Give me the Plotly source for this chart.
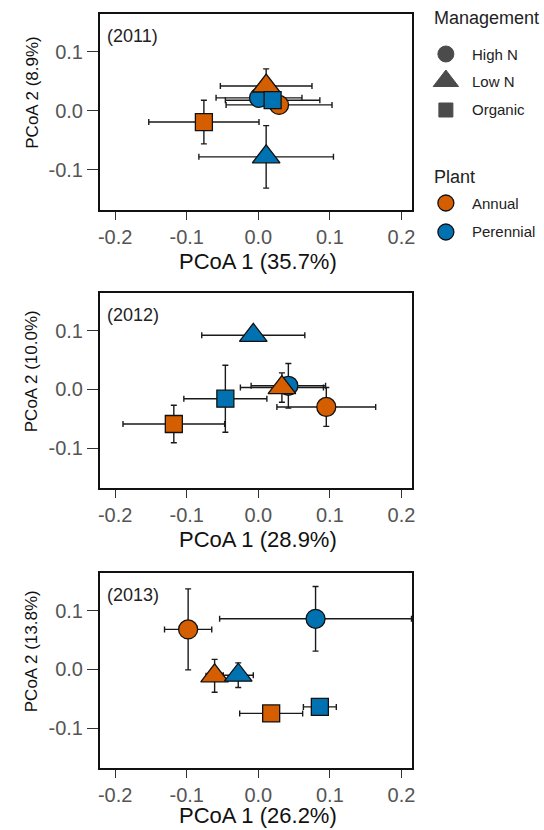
import plotly.graph_objects as go

# ---------------- data ----------------
years = ["(2011)", "(2012)", "(2013)"]
x_titles = ["PCoA 1 (35.7%)", "PCoA 1 (28.9%)", "PCoA 1 (26.2%)"]
y_titles = ["PCoA 2 (8.9%)", "PCoA 2 (10.0%)", "PCoA 2 (13.8%)"]

management = ["High N", "High N", "Low N", "Low N", "Organic", "Organic"]
plant = ["Annual", "Perennial", "Annual", "Perennial", "Annual", "Perennial"]

x_2011 = [0.029, 0.001, 0.011, 0.011, -0.076, 0.020]
y_2011 = [0.010, 0.022, 0.042, -0.078, -0.019, 0.018]
ex_2011 = [0.074, 0.060, 0.064, 0.094, 0.077, 0.066]
ey_2011 = [0.008, 0.008, 0.029, 0.053, 0.037, 0.008]

x_2012 = [0.095, 0.042, 0.033, -0.007, -0.118, -0.046]
y_2012 = [-0.030, 0.006, 0.003, 0.092, -0.059, -0.016]
ex_2012 = [0.069, 0.052, 0.058, 0.072, 0.071, 0.058]
ey_2012 = [0.033, 0.038, 0.025, 0.008, 0.032, 0.057]

x_2013 = [-0.098, 0.080, -0.061, -0.028, 0.018, 0.086]
y_2013 = [0.068, 0.086, -0.011, -0.010, -0.075, -0.064]
ex_2013 = [0.033, 0.134, 0.012, 0.021, 0.044, 0.023]
ey_2013 = [0.069, 0.055, 0.028, 0.021, 0.006, 0.008]

x_ticks = [-0.2, -0.1, 0.0, 0.1, 0.2]
y_ticks = [-0.1, 0.0, 0.1]

# ---------------- styles ----------------
W, H = 544, 830
plant_colors = {"Annual": "#D55E00", "Perennial": "#0072B2"}
mgmt_symbols = {"High N": "circle", "Low N": "triangle-up", "Organic": "square"}
mgmt_sizes = {"High N": 19, "Low N": 24, "Organic": 17}
FONT = "Liberation Sans, Arial, Helvetica, sans-serif"

box_x = (99, 414)
box_y = [(14, 210), (293, 488), (573, 768)]
x_title_gap = [51, 51, 47]
x_range = [-0.221, 0.215]
y_range = [-0.168, 0.164]

def px(x):
    return x / W

def py(y):
    return 1 - y / H

fig = go.Figure()
datasets = [
    (x_2011, y_2011, ex_2011, ey_2011),
    (x_2012, y_2012, ex_2012, ey_2012),
    (x_2013, y_2013, ex_2013, ey_2013),
]

annotations = []
for i, (xs, ys, exs, eys) in enumerate(datasets):
    n = "" if i == 0 else str(i + 1)
    fig.add_trace(go.Scatter(
        x=xs, y=ys, mode="markers",
        xaxis="x" + n, yaxis="y" + n,
        error_x=dict(type="data", array=exs, visible=True, color="#1a1a1a",
                     thickness=1.4, width=3),
        error_y=dict(type="data", array=eys, visible=True, color="#1a1a1a",
                     thickness=1.4, width=3),
        marker=dict(
            symbol=[mgmt_symbols[m] for m in management],
            size=[mgmt_sizes[m] for m in management],
            color=[plant_colors[p] for p in plant],
            line=dict(color="#111111", width=1.3),
            opacity=1,
        ),
        showlegend=False, hoverinfo="skip",
    ))
    top, bot = box_y[i]
    ax = dict(
        domain=[px(box_x[0]), px(box_x[1])],
        range=x_range, tickvals=x_ticks,
        ticktext=["%.1f" % v for v in x_ticks],
        ticks="outside", ticklen=8, tickwidth=1.3, tickcolor="#333333",
        showline=True, linewidth=2.2, linecolor="#111111", mirror=True,
        showgrid=False, zeroline=False,
        tickfont=dict(family=FONT, size=20, color="#555555"),
        anchor="y" + n, fixedrange=True,
    )
    ay = dict(
        domain=[py(bot), py(top)],
        range=y_range, tickvals=y_ticks,
        ticktext=["%.1f" % v for v in y_ticks],
        ticks="outside", ticklen=11, tickwidth=1.3, tickcolor="#333333",
        showline=True, linewidth=2.2, linecolor="#111111", mirror=True,
        showgrid=False, zeroline=False,
        tickfont=dict(family=FONT, size=20, color="#555555"),
        anchor="x" + n, fixedrange=True,
    )
    fig.update_layout(**{"xaxis" + n: ax, "yaxis" + n: ay})
    # x title
    annotations.append(dict(
        x=px((box_x[0] + box_x[1]) / 2 + 2), y=py(bot + x_title_gap[i]),
        xref="paper", yref="paper",
        text=x_titles[i], showarrow=False, xanchor="center", yanchor="middle",
        font=dict(family=FONT, size=22, color="#111111"),
    ))
    # y title
    annotations.append(dict(
        x=px(30), y=py((top + bot) / 2 - 19), xref="paper", yref="paper",
        text=y_titles[i], showarrow=False, textangle=-90,
        xanchor="center", yanchor="middle",
        font=dict(family=FONT, size=17, color="#111111"),
    ))
    # year label
    annotations.append(dict(
        x=px(104), y=py(top + 22), xref="paper", yref="paper",
        text=years[i], showarrow=False, xanchor="left", yanchor="middle",
        font=dict(family=FONT, size=18, color="#222222"),
    ))

# ---------------- manual legend ----------------
leg_mgmt = ["High N", "Low N", "Organic"]
leg_plant = ["Annual", "Perennial"]
leg_mgmt_y = [54, 81, 110]
leg_plant_y = [203, 232]
leg_sym_x = 448
leg_txt_x = 472

fig.add_trace(go.Scatter(
    x=[leg_sym_x] * len(leg_mgmt), y=leg_mgmt_y, mode="markers",
    xaxis="x4", yaxis="y4",
    marker=dict(symbol=[mgmt_symbols[m] for m in leg_mgmt],
                size=[16, 22, 14], color="#000000",
                line=dict(color="#000000", width=1)),
    showlegend=False, hoverinfo="skip",
))
fig.add_trace(go.Scatter(
    x=[leg_sym_x] * len(leg_plant), y=leg_plant_y, mode="markers",
    xaxis="x4", yaxis="y4",
    marker=dict(symbol="circle", size=16,
                color=[plant_colors[p] for p in leg_plant],
                line=dict(color="#111111", width=1.3)),
    showlegend=False, hoverinfo="skip",
))
fig.update_layout(
    xaxis4=dict(domain=[0, 1], range=[0, W], visible=False, fixedrange=True, anchor="y4"),
    yaxis4=dict(domain=[0, 1], range=[H, 0], visible=False, fixedrange=True, anchor="x4"),
)
for lab, yy in zip(leg_mgmt, leg_mgmt_y):
    annotations.append(dict(x=px(leg_txt_x), y=py(yy), xref="paper", yref="paper",
                            text=lab, showarrow=False, xanchor="left", yanchor="middle",
                            font=dict(family=FONT, size=15, color="#222222")))
for lab, yy in zip(leg_plant, leg_plant_y):
    annotations.append(dict(x=px(leg_txt_x), y=py(yy), xref="paper", yref="paper",
                            text=lab, showarrow=False, xanchor="left", yanchor="middle",
                            font=dict(family=FONT, size=15, color="#222222")))
annotations.append(dict(x=px(434), y=py(18), xref="paper", yref="paper",
                        text="Management", showarrow=False, xanchor="left", yanchor="middle",
                        font=dict(family=FONT, size=18, color="#222222")))
annotations.append(dict(x=px(434), y=py(177), xref="paper", yref="paper",
                        text="Plant", showarrow=False, xanchor="left", yanchor="middle",
                        font=dict(family=FONT, size=18, color="#222222")))

fig.update_layout(
    width=W, height=H,
    margin=dict(l=0, r=0, t=0, b=0),
    paper_bgcolor="white", plot_bgcolor="rgba(0,0,0,0)",
    annotations=annotations,
    showlegend=False,
    font=dict(family=FONT),
)

fig.write_html("out.html", config={"displayModeBar": False},
               post_script="document.body.style.margin='0';document.body.style.overflow='hidden';")
